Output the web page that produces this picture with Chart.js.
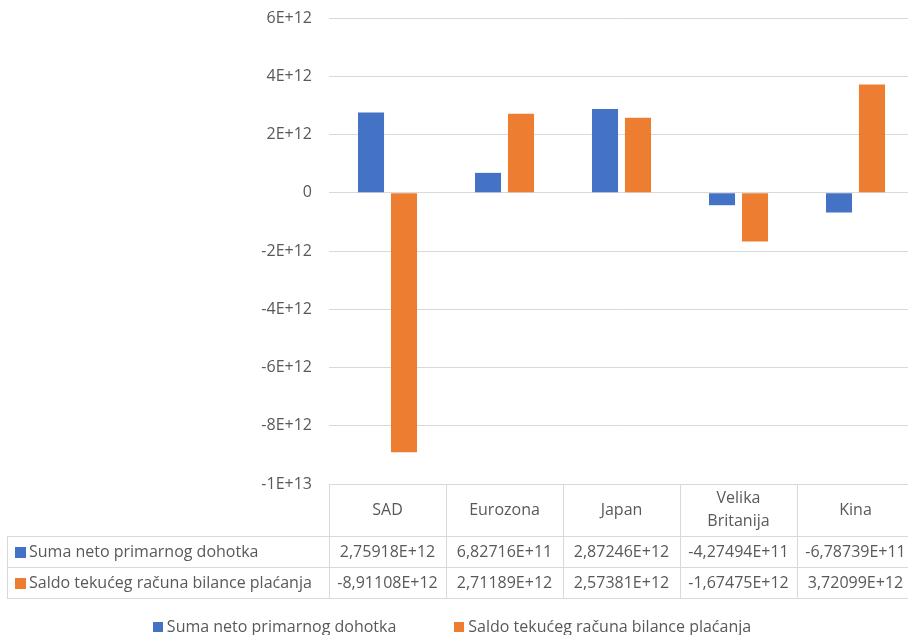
<!DOCTYPE html>
<html>
<head>
<meta charset="utf-8">
<script src="https://cdn.jsdelivr.net/npm/chart.js@4"></script>
<style>
  html, body { margin: 0; padding: 0; background: #fff; overflow: hidden; }
</style>
</head>
<body>
<canvas id="chart" width="914" height="635"></canvas>
<script>
const categories = ["SAD", "Eurozona", "Japan", ["Velika", "Britanija"], "Kina"]
const seriesNames = ["Suma neto primarnog dohotka", "Saldo tekućeg računa bilance plaćanja"]
const sumaNeto = [2.75918e12, 6.82716e11, 2.87246e12, -4.27494e11, -6.78739e11]
const saldoTekuceg = [-8.91108e12, 2.71189e12, 2.57381e12, -1.67475e12, 3.72099e12]
const yTicks = [6e12, 4e12, 2e12, 0, -2e12, -4e12, -6e12, -8e12, -1e13]

const colors = ["#4472C4", "#ED7D31"]
const textColor = "#595959"
const gridColor = "#D9D9D9"
const fontFamily = "'Open Sans', 'Liberation Sans', sans-serif"
const fontSize = 16

// Excel style number in the table: 2,75918E+12
const fmtCell = (v) => v.toExponential(5).replace(".", ",").replace("e", "E")

/**
 * draws the data table under the plot and the legend at the bottom
 */
const dataTablePlugin = {
  id: "dataTable",
  afterDraw(chart) {
    const { ctx, chartArea } = chart
    const xScale = chart.scales.x
    const n = categories.length
    const colW = (chartArea.right - chartArea.left) / n
    const top = chartArea.bottom
    const headerBottom = top + 52
    const row1Bottom = headerBottom + 31
    const row2Bottom = row1Bottom + 31
    const tableLeft = 7

    ctx.save()
    ctx.strokeStyle = gridColor
    ctx.lineWidth = 1

    // horizontal lines
    ;[headerBottom, row1Bottom, row2Bottom].forEach((y) => {
      ctx.beginPath()
      ctx.moveTo(tableLeft, Math.round(y) + 0.5)
      ctx.lineTo(chartArea.right, Math.round(y) + 0.5)
      ctx.stroke()
    })
    // vertical lines
    for (let i = 0; i <= n; i++) {
      const x = Math.round(chartArea.left + i * colW) + 0.5
      ctx.beginPath()
      ctx.moveTo(x, top)
      ctx.lineTo(x, row2Bottom)
      ctx.stroke()
    }
    ctx.beginPath()
    ctx.moveTo(tableLeft + 0.5, headerBottom)
    ctx.lineTo(tableLeft + 0.5, row2Bottom)
    ctx.stroke()

    ctx.fillStyle = textColor
    ctx.font = fontSize + "px " + fontFamily
    ctx.textBaseline = "middle"
    ctx.textAlign = "center"

    // header labels
    categories.forEach((c, i) => {
      const cx = xScale.getPixelForValue(i)
      const lines = Array.isArray(c) ? c : [c]
      const lh = 23
      const y0 = (top + headerBottom) / 2 - ((lines.length - 1) * lh) / 2
      lines.forEach((l, j) => ctx.fillText(l, cx, y0 + j * lh))
    })

    // rows
    const rows = [
      { name: seriesNames[0], values: sumaNeto, color: colors[0], y: (headerBottom + row1Bottom) / 2 },
      { name: seriesNames[1], values: saldoTekuceg, color: colors[1], y: (row1Bottom + row2Bottom) / 2 },
    ]
    rows.forEach((r) => {
      ctx.fillStyle = r.color
      ctx.fillRect(15, Math.round(r.y) - 5, 11, 11)
      ctx.fillStyle = textColor
      ctx.textAlign = "left"
      let size = fontSize
      ctx.font = size + "px " + fontFamily
      while (ctx.measureText(r.name).width > chartArea.left - 32 && size > 10) {
        size -= 0.5
        ctx.font = size + "px " + fontFamily
      }
      ctx.fillText(r.name, 29, r.y + 1)
      ctx.textAlign = "center"
      r.values.forEach((v, i) => {
        const txt = fmtCell(v)
        let s = fontSize
        ctx.font = s + "px " + fontFamily
        while (ctx.measureText(txt).width > colW - 4 && s > 10) {
          s -= 0.5
          ctx.font = s + "px " + fontFamily
        }
        ctx.fillText(txt, xScale.getPixelForValue(i), r.y + 1)
      })
    })

    // legend
    ctx.font = fontSize + "px " + fontFamily
    ctx.textAlign = "left"
    const legendY = 627
    const items = seriesNames.map((name, i) => ({ name, color: colors[i], w: ctx.measureText(name).width }))
    const gap = 58
    const total = items.reduce((t, it) => t + 14 + it.w, 0) + gap
    let lx = 452 - total / 2
    items.forEach((it) => {
      ctx.fillStyle = it.color
      ctx.fillRect(Math.round(lx), legendY - 5, 10, 10)
      ctx.fillStyle = textColor
      ctx.fillText(it.name, lx + 14, legendY)
      lx += 14 + it.w + gap
    })
    ctx.restore()
  },
}

const canvas = document.getElementById("chart")
new Chart(canvas.getContext("2d"), {
  type: "bar",
  data: {
    labels: categories,
    datasets: [
      { label: seriesNames[0], data: sumaNeto, backgroundColor: colors[0] },
      { label: seriesNames[1], data: saldoTekuceg, backgroundColor: colors[1] },
    ],
  },
  options: {
    responsive: false,
    animation: false,
    devicePixelRatio: 1,
    layout: { padding: { top: 18, bottom: 151, left: 0, right: 0 } },
    datasets: { bar: { categoryPercentage: 0.564, barPercentage: 0.79 } },
    scales: {
      x: { display: false },
      y: {
        min: -1e13,
        max: 6e12,
        afterBuildTicks: (scale) => {
          scale.ticks = yTicks.map((v) => ({ value: v }))
        },
        afterFit: (scale) => {
          scale.width = 329
          // tick padding would otherwise push the plot area down
          scale.paddingTop = 8
          scale.paddingBottom = 8
        },
        border: { display: false },
        grid: { color: gridColor, drawTicks: false, lineWidth: 1 },
        ticks: {
          padding: 17,
          color: textColor,
          font: { family: fontFamily, size: fontSize },
          callback: (v) => (v === 0 ? "0" : Number(v).toExponential().replace("e", "E")),
        },
      },
    },
    plugins: {
      legend: { display: false },
      tooltip: { enabled: false },
    },
  },
  plugins: [dataTablePlugin],
})
</script>
</body>
</html>
